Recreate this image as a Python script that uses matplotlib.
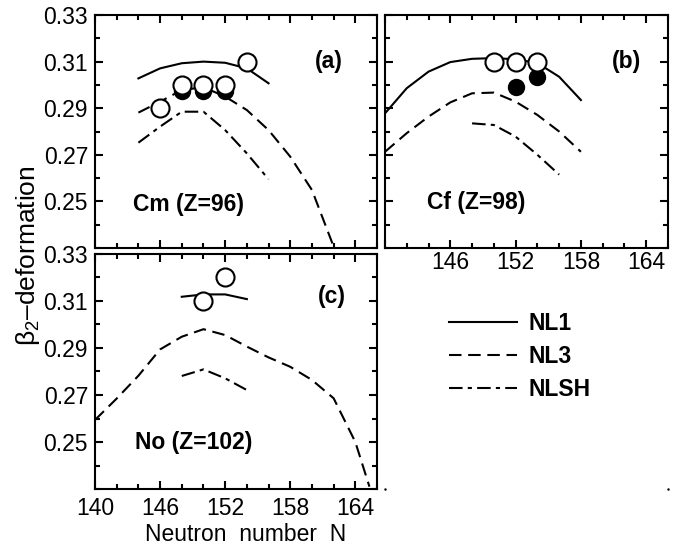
import numpy as np
import matplotlib.pyplot as plt
from matplotlib.ticker import MultipleLocator, FixedLocator

plt.rcParams['font.family'] = ['Liberation Sans', 'DejaVu Sans']
plt.rcParams['mathtext.fontset'] = 'custom'
plt.rcParams['mathtext.rm'] = 'Liberation Sans'
plt.rcParams['mathtext.it'] = 'Liberation Sans:italic'

# panel (a) Cm
a_nl1_N = [144, 146, 148, 150, 152, 154, 156]
a_nl1_b = [0.3028, 0.3071, 0.3093, 0.3100, 0.3095, 0.3071, 0.3007]
a_nl3_N = [144, 146, 148, 150, 152, 154, 156, 158, 160, 162]
a_nl3_b = [0.2881, 0.2928, 0.2978, 0.2990, 0.2950, 0.2892, 0.2806, 0.2692, 0.2549, 0.2306]
a_nlsh_N = [144, 146, 148, 150, 152, 154, 156]
a_nlsh_b = [0.2752, 0.2821, 0.2885, 0.2885, 0.2806, 0.2706, 0.2595]
a_open_N = [146, 148, 150, 152, 154]
a_open_b = [0.29, 0.30, 0.30, 0.30, 0.31]
a_fill_N = [148, 150, 152]
a_fill_b = [0.2975, 0.2975, 0.2975]

# panel (b) Cf
b_nl1_N = [140, 142, 144, 146, 148, 150, 152, 154, 156, 158]
b_nl1_b = [0.2878, 0.2986, 0.3057, 0.3098, 0.3112, 0.3115, 0.3110, 0.3094, 0.3035, 0.2935]
b_nl3_N = [140, 142, 144, 146, 148, 150, 152, 154, 156, 158]
b_nl3_b = [0.2713, 0.2793, 0.2864, 0.2925, 0.2964, 0.2967, 0.2928, 0.2871, 0.2800, 0.2713]
b_nlsh_N = [148, 150, 152, 154, 156]
b_nlsh_b = [0.2835, 0.2828, 0.2778, 0.2700, 0.2615]
b_open_N = [150, 152, 154]
b_open_b = [0.31, 0.31, 0.31]
b_fill_N = [152, 154]
b_fill_b = [0.299, 0.3035]

# panel (c) No
c_nl1_N = [148, 150, 152, 154]
c_nl1_b = [0.3118, 0.3128, 0.3128, 0.3108]
c_nl3_N = [140, 142, 144, 146, 148, 150, 152, 154, 156, 158, 160, 162, 164, 165.3]
c_nl3_b = [0.2594, 0.2685, 0.2782, 0.2894, 0.2948, 0.2980, 0.2955, 0.2906, 0.2860,
           0.2820, 0.2764, 0.2686, 0.2500, 0.2310]
c_nlsh_N = [148, 150, 152, 154]
c_nlsh_b = [0.2781, 0.2809, 0.2771, 0.2721]
c_open_N = [150, 152]
c_open_b = [0.31, 0.32]

xticks = [140, 146, 152, 158, 164]
yticks = [0.25, 0.27, 0.29, 0.31, 0.33]

ls_nl3 = (0, (6, 3.2))
ls_nlsh = (0, (6.5, 2.5, 2.0, 2.5))
lw = 1.5

fig = plt.figure(figsize=(6.89, 5.5), dpi=100)
ax_a = fig.add_axes([0.1379, 0.5491, 0.4093, 0.4236])
ax_b = fig.add_axes([0.5588, 0.5491, 0.4107, 0.4236])
ax_c = fig.add_axes([0.1379, 0.1109, 0.4093, 0.4273])
ax_d = fig.add_axes([0.5588, 0.1109, 0.4107, 0.4273])


def setup(ax):
    ax.set_xlim(140, 166)
    ax.set_ylim(0.23, 0.33)
    ax.xaxis.set_major_locator(FixedLocator(xticks))
    ax.xaxis.set_minor_locator(MultipleLocator(2))
    ax.yaxis.set_major_locator(FixedLocator(yticks))
    ax.yaxis.set_minor_locator(MultipleLocator(0.01))
    ax.tick_params(which='both', direction='in', top=True, right=True, width=1.5,
                   labelsize=16.5)
    ax.tick_params(which='major', length=6)
    ax.tick_params(which='minor', length=3.5)
    ax.tick_params(axis='y', pad=5)
    ax.tick_params(axis='x', pad=6)
    ax.yaxis.set_major_formatter(plt.FuncFormatter(lambda v, p: '%.2f' % v))
    for s in ax.spines.values():
        s.set_linewidth(1.5)


def curves(ax, n1, b1, n3, b3, ns, bs):
    ax.plot(n1, b1, color='k', lw=lw, zorder=2)
    ax.plot(n3, b3, color='k', lw=lw, ls=ls_nl3, zorder=2)
    ax.plot(ns, bs, color='k', lw=lw, ls=ls_nlsh, zorder=2)


for ax in (ax_a, ax_b, ax_c):
    setup(ax)

curves(ax_a, a_nl1_N, a_nl1_b, a_nl3_N, a_nl3_b, a_nlsh_N, a_nlsh_b)
ax_a.plot(a_fill_N, a_fill_b, 'o', color='k', ms=11.5, zorder=3)
ax_a.plot(a_open_N, a_open_b, 'o', mfc='white', mec='k', mew=1.5, ms=13, zorder=4)
ax_a.tick_params(axis='x', labelbottom=False)

curves(ax_b, b_nl1_N, b_nl1_b, b_nl3_N, b_nl3_b, b_nlsh_N, b_nlsh_b)
ax_b.plot(b_fill_N, b_fill_b, 'o', color='k', ms=11.5, zorder=3)
ax_b.plot(b_open_N, b_open_b, 'o', mfc='white', mec='k', mew=1.5, ms=13, zorder=4)
ax_b.tick_params(axis='y', labelleft=False)
ax_b.tick_params(axis='x', pad=2)
ax_b.set_xticks(xticks)
ax_b.set_xticklabels([''] + [str(t) for t in xticks[1:]])

l1, = ax_c.plot(c_nl1_N, c_nl1_b, color='k', lw=lw, zorder=2)
l3, = ax_c.plot(c_nl3_N, c_nl3_b, color='k', lw=lw, ls=ls_nl3, zorder=2)
ls, = ax_c.plot(c_nlsh_N, c_nlsh_b, color='k', lw=lw, ls=ls_nlsh, zorder=2)
ax_c.plot(c_open_N, c_open_b, 'o', mfc='white', mec='k', mew=1.5, ms=13, zorder=4)

bold = dict(fontsize=16.5, fontweight='bold')
ax_a.text(0.879, 0.80, '(a)', transform=ax_a.transAxes, ha='right', va='center', **bold)
ax_a.text(0.135, 0.185, 'Cm (Z=96)', transform=ax_a.transAxes, ha='left', va='center', **bold)
ax_b.text(0.905, 0.80, '(b)', transform=ax_b.transAxes, ha='right', va='center', **bold)
ax_b.text(0.148, 0.197, 'Cf (Z=98)', transform=ax_b.transAxes, ha='left', va='center', **bold)
ax_c.text(0.89, 0.817, '(c)', transform=ax_c.transAxes, ha='right', va='center', **bold)
ax_c.text(0.142, 0.196, 'No (Z=102)', transform=ax_c.transAxes, ha='left', va='center', **bold)

ax_d.axis('off')
ax_d.plot([0, 1], [0, 0], 'k.', ms=1.5, transform=ax_d.transAxes, clip_on=False)
ax_d.legend([l1, l3, ls], ['NL1', 'NL3', 'NLSH'], loc='center', bbox_to_anchor=(0.477, 0.565),
            frameon=False, handlelength=2.97, handletextpad=0.52, labelspacing=0.44,
            prop=dict(size=16.5, weight='bold'))

fig.text(0.356, 0.029, 'Neutron  number  N', ha='center', va='center', fontsize=16.5)
fig.text(0.040, 0.535, 'β$_2$–deformation', ha='center', va='center', rotation=90, fontsize=19)

fig.savefig('out.png', dpi=100)
